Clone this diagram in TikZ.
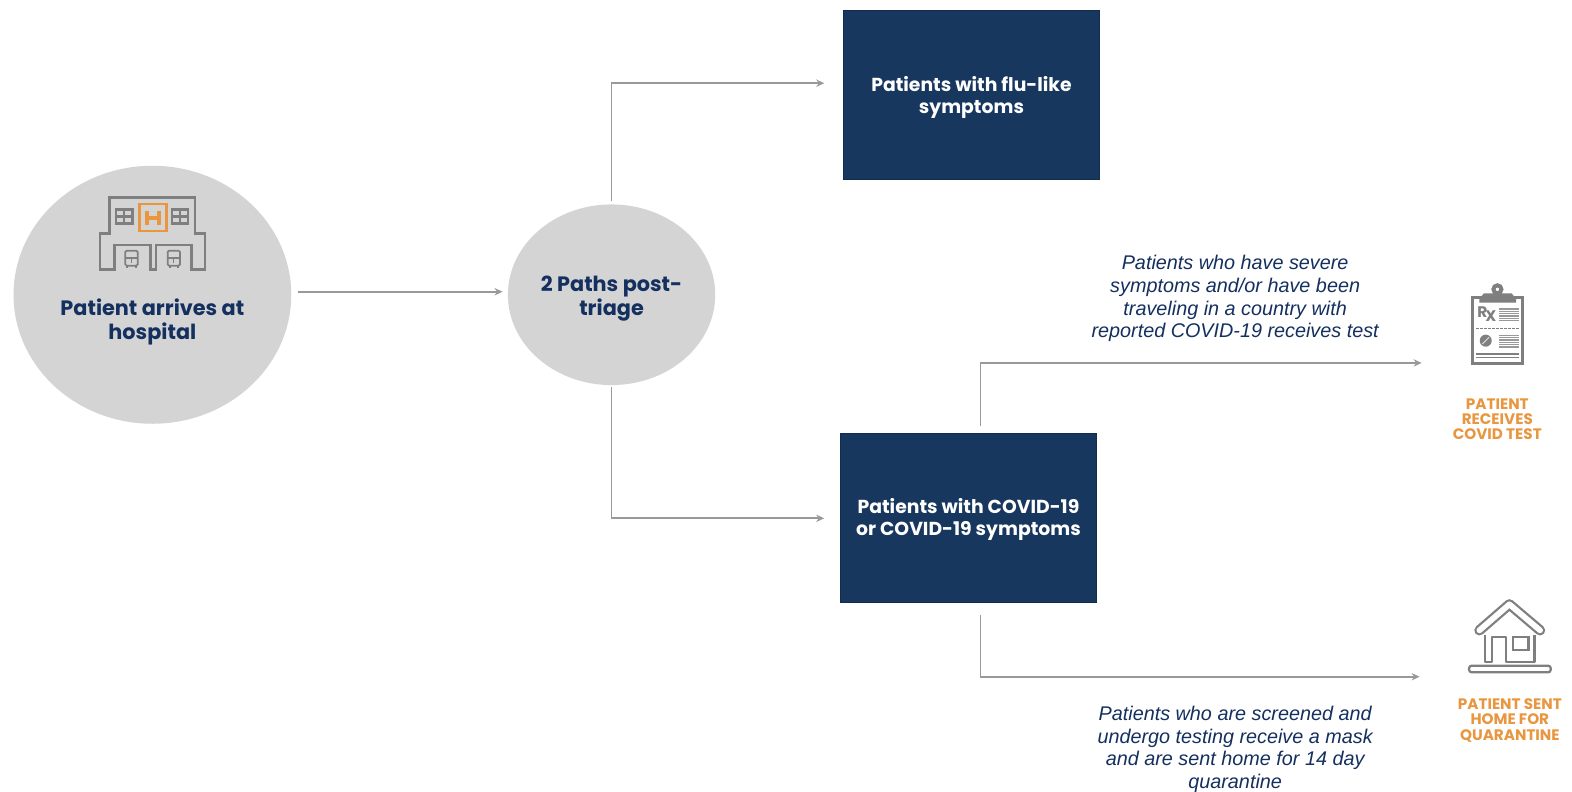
\documentclass[tikz,border=0pt]{standalone}
\usepackage{fontspec}
\setmainfont{Poppins}
\newfontfamily\ital{Liberation Sans}
\usetikzlibrary{shapes.geometric,arrows.meta}
\definecolor{navy}{HTML}{17375E}
\definecolor{inktext}{HTML}{14305F}
\definecolor{orng}{HTML}{E8963F}
\definecolor{disc}{HTML}{D4D4D4}
\definecolor{linegray}{HTML}{999999}
\definecolor{icongray}{HTML}{7F7F7F}
\tikzset{
 px/.style={x=0.7519pt,y=-0.7519pt},
 discnode/.style={ellipse,fill=disc,draw=none,inner sep=0pt},
 boxnode/.style={rectangle,fill=navy,draw=navy!80!black,line width=.4pt,inner sep=0pt,minimum width=192pt,minimum height=127pt},
 boxlabel/.style={text=white,font=\fontsize{14.1pt}{16.3pt}\selectfont\bfseries,align=center,inner sep=0pt},
 disclabel/.style={text=inktext,font=\fontsize{15.6pt}{17.7pt}\selectfont\bfseries,align=center,inner sep=0pt},
 note/.style={text=inktext,font=\ital\itshape\fontsize{14.85pt}{17pt}\selectfont,align=center,inner sep=0pt},
 outcome/.style={text=orng,font=\fontsize{11.4pt}{11.4pt}\selectfont\bfseries,align=center,inner sep=0pt},
 conn/.style={draw=linegray,line width=1.25pt,-{Stealth[length=6pt,width=5.5pt]}},
 icon/.style={draw=icongray,line width=1.9pt,fill=none},
}
\begin{document}
\begin{tikzpicture}[px]
\useasboundingbox (0,0) rectangle (1568,789);
\fill[white] (0,0) rectangle (1568,789);
\node[discnode,minimum width=208.3pt,minimum height=193.5pt] (arrive) at (152,294) {};
\node[discnode,minimum width=155.5pt,minimum height=135.5pt] (triage) at (610,294) {};
\node[disclabel] (arrivetext) at (152,321) {Patient arrives at\\hospital};
\node[disclabel] (triagetext) at (610,298) {2 Paths post-\\triage};
\node[boxnode] (flu) at (969,94.5) {};
\node[boxnode] (covid) at (966,516.5) {};
\node[boxlabel] (flutext) at (969,97) {Patients with flu-like\\symptoms};
\node[boxlabel] (covidtext) at (966,518.5) {Patients with COVID-19\\or COVID-19 symptoms};
\node[note] (sevnote) at (1232,298) {Patients who have severe\\symptoms and/or have been\\traveling in a country with\\reported COVID-19 receives test};
\node[note,font=\ital\itshape\fontsize{14.85pt}{17pt}\selectfont] (homenote) at (1232,747.5) {Patients who are screened and\\undergo testing receive a mask\\and are sent home for 14 day\\quarantine};
\node[outcome] (testout) at (1493.5,418) {PATIENT\\RECEIVES\\COVID TEST};
\node[outcome] (homeout) at (1506,718.5) {PATIENT SENT\\HOME FOR\\QUARANTINE};
% connectors
\coordinate (fluin) at (flu.west |- 0,83);
\coordinate (covin) at (covid.west |- 0,517);
\coordinate (testup) at (978,432);
\coordinate (testend) at (1418,362);
\coordinate (homedown) at (978,601);
\coordinate (homeend) at (1416,675);
\draw[conn,shorten <=4.5pt,shorten >=3.8pt] (arrive.east |- 0,291) -- (triage.west |- 0,291);
\draw[conn,shorten <=2pt,shorten >=14.2pt] (triage.north) |- (fluin);
\draw[conn,shorten >=12pt] (triage.south) ++(0,2) |- (covin);
\draw[conn,shorten <=5pt] (testup) |- (testend);
\draw[conn,shorten <=9pt] (homedown) |- (homeend);
% hospital icon
\begin{scope}[shift={(79.8,179.55)},scale=0.3325]
\draw[icon] (88,160) -- (88,52) -- (345,52) -- (345,160) -- (375,160) -- (375,268) -- (335,268) -- (335,195) -- (228,195) -- (228,268) -- (212,268) -- (212,195) -- (103,195) -- (103,268) -- (60,268) -- (60,160) -- cycle;
\foreach \wx in {105,272}{
 \fill[icongray] (\wx,85) rectangle (\wx+56,134);
 \fill[disc] (\wx+7,92) rectangle (\wx+25,106);
 \fill[disc] (\wx+31,92) rectangle (\wx+49,106);
 \fill[disc] (\wx+7,113) rectangle (\wx+25,127);
 \fill[disc] (\wx+31,113) rectangle (\wx+49,127);
}
\draw[draw=orng,line width=2.2pt] (178,72) rectangle (260,153);
\draw[draw=orng,line width=2.8pt] (200,92) -- (200,134) (238,92) -- (238,134) (200,113) -- (238,113);
\foreach \bx in {136,263}{
 \draw[icon,line width=1.3pt,rounded corners=1pt] (\bx,212) rectangle (\bx+37,257);
 \draw[icon,line width=1.1pt] (\bx,234) -- (\bx+37,234);
 \draw[icon,line width=.8pt] (\bx+18,236) -- (\bx+18,250);
 \draw[icon,line width=1.6pt] (\bx+6,257) -- (\bx+6,265) (\bx+31,257) -- (\bx+31,265);
}
\end{scope}
% clipboard icon
\begin{scope}[shift={(1436.4,269.3)},scale=0.3325]
\draw[icon,line width=2.2pt] (98,83) rectangle (248,281);
\fill[icongray] (118,98) -- (118,85) -- (132,70) -- (214,70) -- (228,85) -- (228,98) -- cycle;
\draw[icon,fill=white,line width=3pt] (172,58) circle (12);
\node[text=icongray,font=\fontsize{11.5pt}{11.5pt}\selectfont\bfseries,inner sep=0pt] (rxlabel) at (140,133) {R\kern-1.5pt\raisebox{-3.2pt}{X}};
\foreach \ly in {117,124,131,138,145,152}{\draw[linegray,line width=1pt] (178,\ly) -- (236,\ly);}
\draw[icongray,line width=1.1pt,dash pattern=on 2pt off 1pt] (108,175) -- (238,175);
\fill[icongray] (137,212) circle (18);
\draw[disc,line width=.8pt] (127,222) -- (147,202);
\foreach \ly in {196,203,210,217,224,231}{\draw[linegray,line width=1pt] (178,\ly) -- (236,\ly);}
\foreach \ly in {252,262}{\draw[icongray,line width=1.1pt] (108,\ly) -- (238,\ly);}
\end{scope}
% house icon
\begin{scope}[shift={(1436.4,583.5)},scale=0.3325]
\draw[draw=icongray,double=white,line width=1.7pt,double distance=4.3pt,line cap=round,line join=round] (118,136) -- (208,58) -- (300,136);
\draw[icon,line width=1.7pt,line join=round] (135,150) -- (135,232) -- (156,232) -- (156,156) -- (198,156) -- (198,232) -- (283,232) -- (283,150);
\draw[icon,line width=1.7pt] (219,155) rectangle (265,195);
\draw[icon,line width=1.7pt,rounded corners=2pt] (87,242) rectangle (332,262);
\end{scope}
\end{tikzpicture}
\end{document}
